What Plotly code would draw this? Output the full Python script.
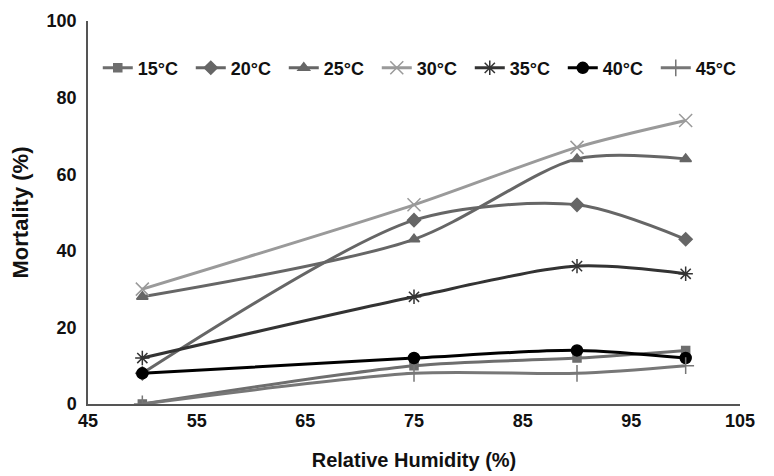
import plotly.graph_objects as go

humidity = [50, 75, 90, 100]

temps = ["15°C", "20°C", "25°C", "30°C", "35°C", "40°C", "45°C"]
mortality = {
    "15°C": [0, 10, 12, 14],
    "20°C": [8, 48, 52, 43],
    "25°C": [28, 43, 64, 64],
    "30°C": [30, 52, 67, 74],
    "35°C": [12, 28, 36, 34],
    "40°C": [8, 12, 14, 12],
    "45°C": [0, 8, 8, 10],
}

x_ticks = [45, 55, 65, 75, 85, 95, 105]
y_ticks = [0, 20, 40, 60, 80, 100]

colors = ["#6e6e6e", "#666666", "#666666", "#9a9a9a", "#333333", "#000000", "#777777"]
symbols = ["square", "diamond", "triangle-up", "x-thin-open", "asterisk-open", "circle", "cross-thin-open"]
sizes = [8, 10, 10, 13, 12, 11, 12]

fig = go.Figure()
for t, c, s, sz in zip(temps, colors, symbols, sizes):
    fig.add_trace(go.Scatter(
        x=humidity,
        y=mortality[t],
        name="<b>" + t + "</b>",
        mode="lines+markers",
        line=dict(color=c, width=3, shape="spline", smoothing=0.8),
        marker=dict(symbol=s, size=sz, color=c, line=dict(color=c, width=1.5)),
    ))

bold = dict(family="Liberation Sans, Arial", weight="bold", color="#111111")

# page body adds an 8px offset, so margins are shifted to compensate
fig.update_layout(
    width=774,
    height=476,
    plot_bgcolor="white",
    paper_bgcolor="white",
    margin=dict(l=80, r=42, t=13, b=80),
    font=dict(**bold, size=18),
    showlegend=True,
    legend=dict(
        orientation="h",
        x=0.015,
        y=0.877,
        xanchor="left",
        yanchor="middle",
        font=dict(**bold, size=18),
        itemwidth=30,
        entrywidth=48,
        bgcolor="rgba(0,0,0,0)",
    ),
    xaxis=dict(
        title=dict(text="<b>Relative Humidity (%)</b>", font=dict(**bold, size=20), standoff=23),
        range=[45, 105],
        tickvals=x_ticks,
        ticktext=["<b>%d</b>" % v for v in x_ticks],
        tickfont=dict(**bold, size=18),
        showgrid=False,
        zeroline=False,
        showline=True,
        linecolor="#555555",
        linewidth=1.5,
        ticks="",
        automargin=False,
    ),
    yaxis=dict(
        title=dict(text="<b>Mortality (%)</b>", font=dict(**bold, size=22), standoff=23),
        range=[0, 100],
        tickvals=y_ticks,
        ticktext=["<b>%d</b>" % v for v in y_ticks],
        tickfont=dict(**bold, size=18),
        ticklabelstandoff=6,
        showgrid=False,
        zeroline=False,
        showline=True,
        linecolor="#555555",
        linewidth=1.5,
        ticks="",
        automargin=False,
    ),
)

fig.write_html("out.html")
